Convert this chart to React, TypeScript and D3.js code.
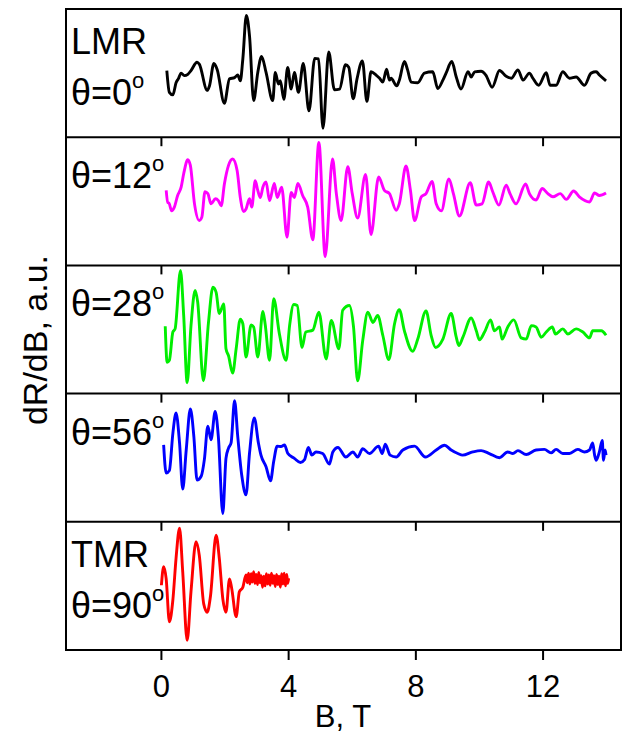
import React from "react";
import * as d3 from "d3";

// B (T) and dR/dB (a.u., panel units -10..10)
const lmr0: [number, number][] = [
  [0.17,0.4],[0.25,-3.0],[0.36,-3.4],[0.46,-1.5],[0.53,-0.9],[0.62,0],[0.72,-0.4],[0.83,-0.2],[0.93,0.4],[1.12,1.7],[1.19,1.4],[1.44,-2.7],[1.51,-2.0],[1.65,1.5],[1.75,0.6],[1.98,-4.7],[2.14,-0.9],[2.30,-0.7],[2.40,-0.3],[2.48,-1.2],[2.56,2.2],[2.67,9.0],[2.77,5.8],[2.90,-4.3],[3.03,0.1],[3.15,2.6],[3.29,0.1],[3.50,-4.3],[3.58,0.1],[3.68,-1.7],[3.74,-1.2],[3.85,-4.1],[3.97,0.9],[4.08,-2.5],[4.18,0.1],[4.31,-3.0],[4.46,1.5],[4.64,-5.9],[4.82,2.3],[4.94,2.2],[5.08,-8.6],[5.26,3.3],[5.44,-2.6],[5.60,-2.5],[5.79,1.3],[5.89,0.9],[6.03,-4.0],[6.15,-0.9],[6.32,1.9],[6.46,-4.4],[6.59,0.2],[6.75,-0.3],[6.86,-0.8],[6.96,-1.4],[7.08,0.6],[7.17,-1.1],[7.22,-0.8],[7.40,-2.0],[7.48,-1.1],[7.64,1.8],[7.74,0.5],[7.85,-1.4],[8.06,-1.5],[8.27,0],[8.53,0.2],[8.69,-2.4],[8.85,-1.1],[8.95,0],[9.13,1.8],[9.27,-0.6],[9.42,-2.5],[9.64,0.2],[9.74,-0.6],[9.85,0.2],[10.05,0.3],[10.20,-0.3],[10.40,-2.2],[10.63,0.4],[10.84,-0.5],[11.00,-0.8],[11.21,0.5],[11.37,-1.1],[11.57,0],[11.68,-0.8],[11.86,-1.9],[12.10,0.05],[12.22,-1.9],[12.41,-1.9],[12.62,0.2],[12.83,-0.8],[13.04,-0.6],[13.30,-1.9],[13.51,0],[13.67,0.2],[13.77,-0.3],[13.98,-1.2]
];

const theta12: [number, number][] = [
  [0.15,1.7],[0.20,-0.2],[0.24,-0.3],[0.32,-1.5],[0.40,-1.0],[0.51,0.9],[0.62,2.2],[0.70,4.3],[0.83,6.5],[0.91,5.6],[1.04,-0.4],[1.19,-3.0],[1.27,-2.5],[1.37,1.5],[1.46,1.2],[1.56,-0.4],[1.70,0.4],[1.79,0.1],[1.88,-0.7],[1.98,2.7],[2.11,5.6],[2.24,6.6],[2.38,4.8],[2.48,0.6],[2.59,-1.6],[2.66,-1.2],[2.77,0.4],[2.84,-0.9],[2.95,3.2],[3.03,1.7],[3.11,0.6],[3.19,2.2],[3.29,3.0],[3.40,0.1],[3.55,2.8],[3.64,0.6],[3.78,2.2],[3.95,-5.6],[4.08,1.4],[4.18,0.6],[4.29,2.8],[4.44,0.9],[4.60,-0.9],[4.76,-6.0],[4.95,9.2],[5.15,-8.6],[5.38,6.6],[5.50,1.2],[5.65,-3.0],[5.86,5.4],[6.00,1.2],[6.17,-2.6],[6.42,4.2],[6.59,-5.2],[6.83,3.8],[7.01,1.7],[7.17,1.2],[7.38,-1.4],[7.48,-0.4],[7.69,5.5],[7.83,1.7],[7.96,-3.0],[8.17,0.7],[8.32,1.2],[8.51,3.1],[8.64,-0.4],[8.80,-1.5],[9.04,3.5],[9.18,1.2],[9.37,-2.3],[9.71,2.9],[9.90,-0.6],[10.08,-0.4],[10.29,3.0],[10.42,1.45],[10.61,-0.6],[10.84,2.5],[10.96,1.2],[11.15,-0.4],[11.45,2.7],[11.57,1.2],[11.78,0.2],[11.97,2.0],[12.15,1.2],[12.31,0.7],[12.54,1.2],[12.73,0.3],[12.96,1.6],[13.14,0.7],[13.46,-0.1],[13.62,1.3],[13.77,0.9],[13.98,1.3]
];

const theta28: [number, number][] = [
  [0.12,0.5],[0.18,-5.1],[0.25,-4.8],[0.36,-0.4],[0.43,0.1],[0.60,9.2],[0.70,2.2],[0.81,-8.3],[0.93,0.6],[1.06,6.1],[1.14,4.3],[1.32,-8.0],[1.48,1.1],[1.62,6.6],[1.72,5.8],[1.82,2.5],[1.96,4.0],[2.03,-3.0],[2.11,-4.1],[2.24,-6.8],[2.35,-3.0],[2.48,1.6],[2.56,0.9],[2.66,-4.3],[2.82,0.7],[2.90,0.4],[3.03,-4.3],[3.19,2.8],[3.26,0.9],[3.40,-4.8],[3.53,4.8],[3.71,-0.7],[3.92,-4.8],[4.03,0.6],[4.16,3.9],[4.27,3.75],[4.42,-2.8],[4.54,-0.4],[4.76,-0.1],[4.95,2.7],[5.18,-4.6],[5.34,1.4],[5.58,-3.0],[5.70,3.0],[5.91,3.75],[6.04,0.4],[6.17,-8.0],[6.33,-1.7],[6.49,2.7],[6.65,1.1],[6.80,2.2],[6.96,-0.9],[7.15,-4.7],[7.33,0.9],[7.48,3.1],[7.64,-0.2],[7.90,-3.4],[8.06,-1.5],[8.32,2.9],[8.48,-0.9],[8.62,-2.8],[8.85,-1.5],[9.11,2.5],[9.27,-1.2],[9.35,-2.5],[9.48,-1.2],[9.74,1.8],[9.90,-0.2],[10.00,-1.6],[10.16,-0.4],[10.35,1.5],[10.47,-0.2],[10.63,0.4],[10.71,-1.5],[10.89,0.4],[11.08,1.5],[11.31,-1.3],[11.47,-1.5],[11.63,0.6],[11.78,0.4],[11.94,-1.2],[12.10,-0.4],[12.29,0.4],[12.39,-0.7],[12.62,0.1],[12.78,-0.7],[13.04,0.1],[13.25,-0.4],[13.46,-1.3],[13.56,-0.2],[13.83,-0.2],[13.98,-0.9]
];

const theta56: [number, number][] = [
  [0.07,2.0],[0.15,-2.4],[0.25,-2.0],[0.36,3.8],[0.46,7.0],[0.57,2.3],[0.67,-4.9],[0.78,1.2],[0.91,7.6],[1.02,3.3],[1.12,-3.5],[1.25,-2.9],[1.35,-0.3],[1.46,4.9],[1.56,2.8],[1.69,7.2],[1.79,3.3],[1.93,-8.7],[2.03,-0.1],[2.11,1.5],[2.19,2.3],[2.30,8.9],[2.40,3.3],[2.53,-2.9],[2.66,-5.8],[2.77,0.7],[2.92,6.2],[3.05,2.3],[3.13,0.4],[3.29,-1.4],[3.43,-3.6],[3.53,-0.6],[3.64,1.8],[3.76,1.75],[3.87,2.0],[3.97,0.7],[4.18,-0.1],[4.37,-0.75],[4.50,-0.3],[4.62,1.6],[4.73,0.4],[4.86,0.9],[5.07,0.65],[5.28,-1.0],[5.39,0.9],[5.55,1.6],[5.80,0.1],[6.02,0.9],[6.17,0.1],[6.33,1.4],[6.54,0.65],[6.83,1.8],[6.94,0.65],[7.04,2.1],[7.19,0.4],[7.38,0.1],[7.59,1.2],[7.96,1.8],[8.30,0.1],[8.64,1.2],[8.90,1.95],[9.11,1.2],[9.32,0.65],[9.47,0.4],[9.79,0.9],[10.05,1.1],[10.31,0.65],[10.63,0.0],[10.89,0.9],[11.05,0.65],[11.21,1.1],[11.47,0.5],[11.78,1.2],[12.04,1.3],[12.25,0.75],[12.41,1.3],[12.62,0.65],[12.83,0.65],[13.09,1.3],[13.30,0.9],[13.46,1.2],[13.56,2.3],[13.62,0.4],[13.67,-0.4],[13.77,0.9],[13.86,2.7],[13.90,-0.4],[13.95,1.2],[13.98,0.4]
];

const tmr90: [number, number][] = [
  [0.00,0.1],[0.07,3.0],[0.15,1.1],[0.25,-5.6],[0.36,-2.2],[0.46,4.3],[0.57,9.0],[0.67,2.2],[0.81,-8.5],[0.93,-0.9],[1.09,6.9],[1.19,4.8],[1.33,-2.8],[1.44,-4.1],[1.54,-1.7],[1.72,7.9],[1.82,4.3],[1.93,-2.0],[2.03,-4.1],[2.14,1.1],[2.21,-0.4],[2.35,-4.8],[2.45,-0.9],[2.56,-0.2],[2.66,1.7],
  [2.70,0.5],[2.74,2.0],[2.78,0.3],[2.82,1.9],[2.86,0.6],[2.90,2.2],[2.94,0.4],[2.98,1.8],[3.02,0.2],[3.06,2.1],[3.10,0.5],[3.14,1.6],[3.18,-0.2],[3.22,1.5],[3.26,0.0],[3.30,1.9],[3.34,0.3],[3.38,1.7],[3.42,0.1],[3.46,2.0],[3.50,0.4],[3.54,1.6],[3.58,-0.1],[3.62,1.8],[3.66,0.2],[3.70,1.5],[3.74,-0.2],[3.78,1.9],[3.82,0.3],[3.86,2.0],[3.90,0.0],[3.94,1.8],[3.97,0.4],[4.00,1.2]
];

const xTicks = [0, 4, 8, 12];
const seriesColors = ["#000000", "#ff00ff", "#00ee00", "#0000ff", "#ff0000"];
const panelLabels: string[][] = [["LMR", "θ=0"], ["θ=12"], ["θ=28"], ["θ=56"], ["TMR", "θ=90"]];
const xTitle = "B, T";
const yTitle = "dR/dB, a.u.";

const W = 625, H = 733;
const left = 66, right = 621, top = 9, bottom = 650;
const nP = 5;
const pH = (bottom - top) / nP;
const FONT = "'Liberation Sans', Arial, sans-serif";

export default function App() {
  const series = [lmr0, theta12, theta28, theta56, tmr90];
  const x = d3.scaleLinear().domain([-3, 14.45]).range([left, right]);
  return (
    <svg width={W} height={H} style={{ position: "absolute", left: 0, top: 0 }} fontFamily={FONT}>
      <rect x={0} y={0} width={W} height={H} fill="#fff" />
      {series.map((s, i) => {
        const pTop = top + i * pH;
        const y = d3.scaleLinear().domain([-10, 10]).range([pTop + pH, pTop]);
        const line = d3.line<[number, number]>().x(d => x(d[0])).y(d => y(d[1])).curve(d3.curveMonotoneX);
        return (
          <g key={i}>
            <path d={line(s) || ""} fill="none" stroke={seriesColors[i]} strokeWidth={2.9} strokeLinejoin="round" />
          </g>
        );
      })}
      <rect x={left} y={top} width={right - left} height={bottom - top} fill="none" stroke="#000" strokeWidth={2} />
      {d3.range(1, nP).map(i => (
        <line key={i} x1={left} x2={right} y1={top + i * pH} y2={top + i * pH} stroke="#000" strokeWidth={2} />
      ))}
      {d3.range(1, nP).map(i =>
        xTicks.map(t => (
          <line key={`${i}-${t}`} x1={x(t)} x2={x(t)} y1={top + i * pH} y2={top + i * pH + 9} stroke="#000" strokeWidth={2} />
        ))
      )}
      {xTicks.map(t => (
        <g key={t}>
          <line x1={x(t)} x2={x(t)} y1={bottom} y2={bottom + 10} stroke="#000" strokeWidth={2} />
          <text x={x(t)} y={697} fontSize={31} textAnchor="middle" fill="#000">{t}</text>
        </g>
      ))}
      <text x={343} y={727} fontSize={31} textAnchor="middle" fill="#000">{xTitle}</text>
      <text transform={`translate(47,340) rotate(-90)`} fontSize={34} textAnchor="middle" fill="#000">{yTitle}</text>
      {panelLabels.map((labs, i) => {
        const pTop = top + i * pH;
        return labs.map((lab, j) => {
          const isTheta = lab.startsWith("θ");
          const yy = labs.length === 2 ? pTop + (j === 0 ? 45 : 96) : pTop + 51;
          return (
            <text key={`${i}-${j}`} x={71} y={yy} fontSize={36} fill="#000">
              {lab}
              {isTheta && <tspan fontSize={22} dy={-17}>o</tspan>}
            </text>
          );
        });
      })}
    </svg>
  );
}
